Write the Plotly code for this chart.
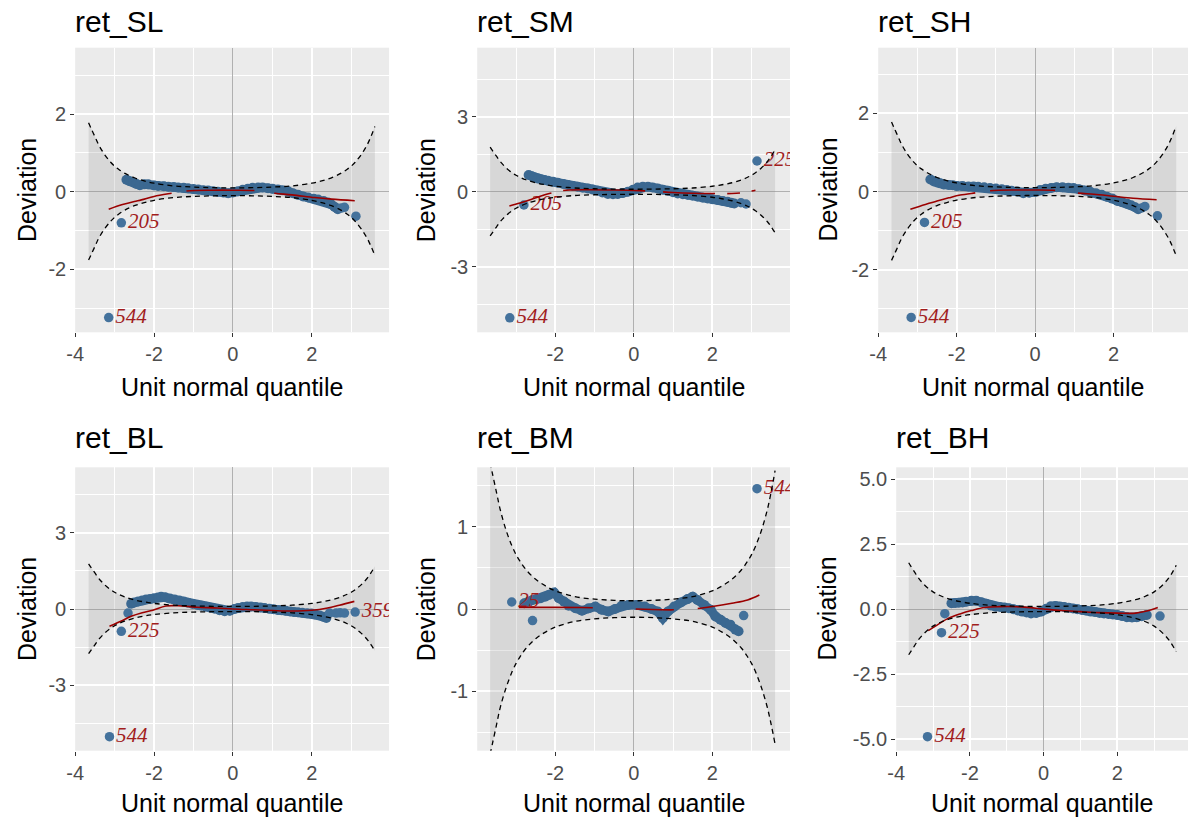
import plotly.graph_objects as go

W, H = 1188, 818

# ---------------- data ----------------
band_x = [-3.66, -3.6, -3.5, -3.4, -3.25, -3.1, -3.0, -2.9, -2.75, -2.5, -2.25, -2.0, -1.5, -1.0, -0.5, 0.0,
          0.5, 1.0, 1.5, 2.0, 2.25, 2.5, 2.75, 2.9, 3.0, 3.1, 3.25, 3.4, 3.5, 3.6]
band_hi = [1.78, 1.64, 1.42, 1.20, 0.95, 0.76, 0.66, 0.58, 0.48, 0.36, 0.28, 0.22, 0.15, 0.12, 0.105, 0.10,
           0.105, 0.12, 0.15, 0.22, 0.28, 0.36, 0.48, 0.58, 0.66, 0.76, 0.95, 1.20, 1.42, 1.68]
band_lo = [-1.76, -1.63, -1.41, -1.19, -0.95, -0.76, -0.66, -0.58, -0.48, -0.36, -0.28, -0.22, -0.15, -0.12, -0.105, -0.10,
           -0.105, -0.12, -0.15, -0.22, -0.28, -0.36, -0.48, -0.58, -0.66, -0.76, -0.95, -1.19, -1.40, -1.64]

# ret_SL
SL_worm_x = [-2.7, -2.62, -2.53, -2.45, -2.36, -2.25, -2.15, -2.0, -1.9, -1.75, -1.64, -1.5, -1.39, -1.25, -1.14, -1.0,
             -0.88, -0.75, -0.63, -0.5, -0.38, -0.25, -0.12, 0.0, 0.13, 0.25, 0.38, 0.5, 0.64, 0.75, 0.89, 1.0, 1.14,
             1.25, 1.4, 1.52, 1.65, 1.78, 1.91, 2.05, 2.16, 2.3, 2.41, 2.5, 2.58, 2.66]
SL_worm_y = [0.31, 0.27, 0.24, 0.2, 0.17, 0.19, 0.19, 0.16, 0.15, 0.14, 0.13, 0.12, 0.11, 0.1, 0.09, 0.07,
             0.06, 0.04, 0.03, 0.01, 0.0, -0.02, -0.04, -0.02, 0.01, 0.05, 0.08, 0.1, 0.11, 0.11, 0.09, 0.08, 0.06,
             0.04, 0.01, -0.04, -0.08, -0.12, -0.15, -0.18, -0.2, -0.24, -0.28, -0.33, -0.39, -0.45]
SL_iso_x = [2.75, 2.83, 3.12, -2.83, -3.15]
SL_iso_y = [-0.42, -0.4, -0.63, -0.8, -3.24]
SL_lab_x = [-2.83, -3.15]
SL_lab_y = [-0.8, -3.24]
SL_lab_t = ["205", "544"]
SL_fit_x = [-3.15, -2.8, -2.5, -2.32, -2.0, -1.56, -1.18, -0.5, 0.0, 0.55, 1.06, 1.5, 2.07, 2.5, 3.09]
SL_fit_y = [-0.45, -0.33, -0.25, -0.21, -0.12, -0.04, 0.02, 0.04, 0.04, 0.03, -0.04, -0.08, -0.15, -0.19, -0.23]

# ret_SM
SM_worm_x = [-2.68, -2.6, -2.53, -2.45, -2.36, -2.28, -2.19, -2.06, -1.94, -1.8, -1.68, -1.55, -1.43, -1.3, -1.17,
             -1.05, -0.92, -0.8, -0.66, -0.53, -0.41, -0.28, -0.15, -0.02, 0.1, 0.23, 0.36, 0.48, 0.61, 0.74, 0.87,
             1.0, 1.12, 1.25, 1.38, 1.5, 1.63, 1.76, 1.88, 2.0, 2.14, 2.27, 2.39, 2.48, 2.56]
SM_worm_y = [0.67, 0.62, 0.57, 0.53, 0.49, 0.47, 0.44, 0.4, 0.36, 0.31, 0.27, 0.23, 0.2, 0.16, 0.13,
             0.09, 0.04, -0.03, -0.09, -0.1, -0.09, -0.05, 0.0, 0.08, 0.17, 0.2, 0.2, 0.17, 0.13, 0.08, 0.04,
             -0.02, -0.07, -0.1, -0.13, -0.16, -0.2, -0.24, -0.27, -0.3, -0.33, -0.37, -0.4, -0.44, -0.47]
SM_iso_x = [2.73, 2.86, 3.14, -2.8, -3.16]
SM_iso_y = [-0.44, -0.49, 1.23, -0.53, -5.04]
SM_lab_x = [-2.8, 3.14, -3.16]
SM_lab_y = [-0.53, 1.23, -5.04]
SM_lab_t = ["205", "225", "544"]
SM_fit_x = [-3.17, -2.9, -2.6, -2.4, -2.2, -2.0, -1.8, -1.2, -0.5, 0.0, 0.5, 1.0, 1.5, 2.0, 2.5, 2.8, 3.1]
SM_fit_y = [-0.57, -0.45, -0.3, -0.19, -0.09, -0.02, 0.05, 0.08, 0.07, 0.05, 0.02, -0.03, -0.06, -0.07, -0.07, -0.03, 0.06]

# ret_SH
SH_worm_x = [-2.67, -2.58, -2.5, -2.42, -2.33, -2.2, -2.1, -2.0, -1.85, -1.7, -1.57, -1.45, -1.3, -1.15, -1.0, -0.85,
             -0.72, -0.6, -0.45, -0.3, -0.15, 0.0, 0.13, 0.27, 0.41, 0.55, 0.7, 0.85, 0.98, 1.12, 1.26, 1.4, 1.55,
             1.7, 1.83, 1.97, 2.1, 2.22, 2.35, 2.45, 2.55, 2.63]
SH_worm_y = [0.31, 0.26, 0.23, 0.21, 0.18, 0.17, 0.16, 0.14, 0.14, 0.13, 0.13, 0.12, 0.11, 0.09, 0.08, 0.06,
             0.04, 0.02, 0.0, -0.04, -0.03, -0.01, 0.04, 0.07, 0.09, 0.11, 0.11, 0.1, 0.09, 0.06, 0.03, 0.0, -0.04,
             -0.08, -0.13, -0.18, -0.24, -0.27, -0.31, -0.35, -0.4, -0.45]
SH_iso_x = [2.72, 2.8, 3.12, -2.82, -3.16]
SH_iso_y = [-0.42, -0.38, -0.62, -0.79, -3.22]
SH_lab_x = [-2.82, -3.16]
SH_lab_y = [-0.79, -3.22]
SH_lab_t = ["205", "544"]
SH_fit_x = [-3.18, -2.8, -2.5, -2.2, -1.91, -1.5, -1.15, -0.5, 0.0, 0.51, 1.1, 1.5, 2.0, 2.5, 3.1]
SH_fit_y = [-0.45, -0.33, -0.24, -0.16, -0.09, -0.03, 0.02, 0.04, 0.04, 0.03, -0.04, -0.07, -0.12, -0.17, -0.21]

# ret_BL
BL_worm_x = [-2.58, -2.5, -2.4, -2.3, -2.2, -2.1, -2.0, -1.9, -1.82, -1.72, -1.6, -1.48, -1.36, -1.25, -1.14, -1.02,
             -0.9, -0.8, -0.68, -0.57, -0.46, -0.34, -0.21, -0.08, 0.04, 0.13, 0.25, 0.36, 0.46, 0.58, 0.7, 0.8,
             0.92, 1.03, 1.14, 1.23, 1.34, 1.45, 1.55, 1.65, 1.76, 1.88, 1.99, 2.1, 2.2, 2.3, 2.37]
BL_worm_y = [0.21, 0.26, 0.3, 0.33, 0.37, 0.39, 0.42, 0.45, 0.48, 0.46, 0.41, 0.37, 0.33, 0.3, 0.25, 0.2,
             0.16, 0.13, 0.09, 0.05, 0.01, -0.05, -0.09, -0.07, 0.0, 0.04, 0.08, 0.1, 0.1, 0.08, 0.06, 0.04,
             0.01, -0.01, -0.04, -0.05, -0.07, -0.1, -0.12, -0.13, -0.15, -0.17, -0.18, -0.22, -0.26, -0.31, -0.35]
BL_iso_x = [2.45, 2.62, 2.72, 2.83, 3.1, -2.66, -2.83, -3.13]
BL_iso_y = [-0.16, -0.16, -0.15, -0.16, -0.12, -0.16, -0.88, -5.03]
BL_lab_x = [-2.83, 3.1, -3.13]
BL_lab_y = [-0.88, -0.12, -5.03]
BL_lab_t = ["225", "359", "544"]
BL_fit_x = [-3.13, -2.8, -2.58, -2.3, -2.03, -1.7, -1.3, -0.9, -0.4, 0.0, 0.5, 1.0, 1.5, 2.0, 2.4, 2.7, 3.08]
BL_fit_y = [-0.68, -0.45, -0.29, -0.15, -0.05, 0.12, 0.12, 0.07, 0.04, 0.0, -0.03, -0.06, -0.08, -0.05, 0.04, 0.15, 0.30]

# ret_BM
BM_worm_x = [-2.79, -2.68, -2.58, -2.47, -2.37, -2.26, -2.16, -2.03, -1.91, -1.78, -1.66, -1.49, -1.32, -1.15, -0.98,
             -0.82, -0.65, -0.48, -0.31, -0.14, 0.07, 0.28, 0.45, 0.61, 0.74, 0.87, 1.03, 1.2, 1.37, 1.5, 1.62, 1.79,
             1.96, 2.08, 2.21, 2.34, 2.46, 2.59, 2.67]
BM_worm_y = [0.07, 0.09, 0.11, 0.12, 0.13, 0.15, 0.17, 0.2, 0.13, 0.09, 0.04, 0.01, -0.02, 0.01, 0.03,
             -0.01, -0.03, 0.0, 0.04, 0.05, 0.05, 0.03, 0.0, -0.03, -0.11, -0.03, 0.03, 0.08, 0.12, 0.15, 0.11, 0.05,
             -0.01, -0.09, -0.13, -0.17, -0.19, -0.25, -0.27]
BM_iso_x = [-3.11, -2.58, 2.8, 3.14]
BM_iso_y = [0.085, -0.14, -0.08, 1.46]
BM_lab_x = [-3.11, 3.14]
BM_lab_y = [0.085, 1.46]
BM_lab_t = ["25", "544"]
BM_fit_x = [-2.93, -2.0, -1.0, 0.0, 1.0, 1.5, 2.0, 2.5, 2.9, 3.2]
BM_fit_y = [0.02, 0.02, 0.015, 0.0, -0.01, 0.0, 0.03, 0.07, 0.11, 0.17]

# ret_BH
BH_worm_x = [-2.5, -2.4, -2.3, -2.2, -2.1, -1.96, -1.83, -1.69, -1.56, -1.42, -1.3, -1.18, -1.06, -0.94, -0.82, -0.7,
             -0.58, -0.46, -0.34, -0.2, -0.07, 0.07, 0.2, 0.32, 0.44, 0.56, 0.68, 0.8, 0.92, 1.04, 1.16, 1.28, 1.4,
             1.52, 1.64, 1.76, 1.88, 2.0, 2.13, 2.26, 2.4, 2.53, 2.66, 2.8]
BH_worm_y = [0.22, 0.23, 0.24, 0.25, 0.28, 0.32, 0.32, 0.26, 0.2, 0.13, 0.09, 0.08, 0.06, 0.03, -0.01, -0.06,
             -0.1, -0.13, -0.17, -0.15, -0.1, 0.01, 0.11, 0.12, 0.1, 0.08, 0.05, 0.02, -0.01, -0.04, -0.07, -0.1, -0.12,
             -0.15, -0.17, -0.19, -0.21, -0.23, -0.27, -0.32, -0.33, -0.32, -0.28, -0.23]
BH_iso_x = [3.16, -2.68, -2.77, -3.15]
BH_iso_y = [-0.27, -0.18, -0.91, -4.91]
BH_lab_x = [-2.77, -3.15]
BH_lab_y = [-0.91, -4.91]
BH_lab_t = ["225", "544"]
BH_fit_x = [-3.13, -2.85, -2.59, -2.25, -1.96, -1.6, -1.2, -0.6, 0.0, 0.5, 1.0, 1.5, 2.0, 2.5, 2.8, 3.1]
BH_fit_y = [-0.83, -0.58, -0.36, -0.18, -0.06, 0.06, 0.09, 0.08, 0.0, -0.06, -0.1, -0.14, -0.16, -0.16, -0.08, 0.06]

# axis ticks
x_ticks = [-4, -2, 0, 2]
x_ticktext = ["-4", "-2", "0", "2"]
x_minor = [-3, -1, 1, 3]

# ---------------- panel setup ----------------
panels = [
    dict(title="ret_SL", worm=(SL_worm_x, SL_worm_y), iso=(SL_iso_x, SL_iso_y), lab=(SL_lab_x, SL_lab_y, SL_lab_t),
         fit=(SL_fit_x, SL_fit_y), dash="65px,15px,68px,20px,130px",
         box=(73.3, 387.7, 47.7, 332.3), xr=[-4.0, 3.96], yr=[-3.62, 3.71],
         yt=[-2, 0, 2], ytt=["-2", "0", "2"], ym=[-3, -1, 1, 3], devx=25),
    dict(title="ret_SM", worm=(SM_worm_x, SM_worm_y), iso=(SM_iso_x, SM_iso_y), lab=(SM_lab_x, SM_lab_y, SM_lab_t),
         fit=(SM_fit_x, SM_fit_y), dash="44px,12px,82px,18px,52px,12px,13px,12px,80px",
         box=(476.0, 789.3, 47.7, 332.3), xr=[-3.99, 3.98], yr=[-5.62, 5.76],
         yt=[-3, 0, 3], ytt=["-3", "0", "3"], ym=[-4.5, -1.5, 1.5, 4.5], devx=425),
    dict(title="ret_SH", worm=(SH_worm_x, SH_worm_y), iso=(SH_iso_x, SH_iso_y), lab=(SH_lab_x, SH_lab_y, SH_lab_t),
         fit=(SH_fit_x, SH_fit_y), dash="67px,15px,65px,23px,130px",
         box=(877.7, 1188.0, 47.7, 332.3), xr=[-4.0, 3.9], yr=[-3.6, 3.68],
         yt=[-2, 0, 2], ytt=["-2", "0", "2"], ym=[-3, -1, 1, 3], devx=827),
    dict(title="ret_BL", worm=(BL_worm_x, BL_worm_y), iso=(BL_iso_x, BL_iso_y), lab=(BL_lab_x, BL_lab_y, BL_lab_t),
         fit=(BL_fit_x, BL_fit_y), dash="solid",
         box=(73.3, 387.7, 467.3, 750.7), xr=[-4.0, 3.96], yr=[-5.58, 5.58],
         yt=[-3, 0, 3], ytt=["-3", "0", "3"], ym=[-4.5, -1.5, 1.5, 4.5], devx=25),
    dict(title="ret_BM", worm=(BM_worm_x, BM_worm_y), iso=(BM_iso_x, BM_iso_y), lab=(BM_lab_x, BM_lab_y, BM_lab_t),
         fit=(BM_fit_x, BM_fit_y), dash="74px,43px,38px,24px,120px",
         box=(476.0, 789.3, 467.3, 750.7), xr=[-3.99, 3.98], yr=[-1.72, 1.72],
         yt=[-1, 0, 1], ytt=["-1", "0", "1"], ym=[-1.5, -0.5, 0.5, 1.5], devx=425),
    dict(title="ret_BH", worm=(BH_worm_x, BH_worm_y), iso=(BH_iso_x, BH_iso_y), lab=(BH_lab_x, BH_lab_y, BH_lab_t),
         fit=(BH_fit_x, BH_fit_y), dash="solid",
         box=(895.7, 1188.0, 467.3, 750.7), xr=[-4.0, 3.92], yr=[-5.45, 5.45],
         yt=[-5, -2.5, 0, 2.5, 5], ytt=["-5.0", "-2.5", "0.0", "2.5", "5.0"], ym=[-3.75, -1.25, 1.25, 3.75], devx=826),
]

SANS = "Liberation Sans, Arial, sans-serif"
SERIF = "Liberation Serif, Times New Roman, serif"
WORM_COL = "#3b6891"
ISO_COL = "#44729c"
FIT_COL = "#9b0000"
LAB_COL = "#a11d1d"

# observed horizontal placement correction of the rendered page (screen px -> paper fraction)
X_OFF, X_SPAN = 7.0, 1181.0


def fx(px):
    return (px - X_OFF) / X_SPAN


def fy(py):
    return 1 - py / H


fig = go.Figure()
annotations = []
layout_axes = {}

for i, p in enumerate(panels, start=1):
    xa = "x" if i == 1 else f"x{i}"
    ya = "y" if i == 1 else f"y{i}"
    l, r, t, b = p["box"]
    common = dict(xaxis=xa, yaxis=ya, showlegend=False, hoverinfo="skip")

    # confidence ribbon
    fig.add_trace(go.Scatter(x=band_x + band_x[::-1], y=band_hi + band_lo[::-1], mode="lines",
                             fill="toself", fillcolor="rgba(140,140,140,0.21)", line=dict(width=0), **common))
    # worm
    wx, wy = p["worm"]
    fig.add_trace(go.Scatter(x=wx, y=wy, mode="lines+markers",
                             line=dict(color=WORM_COL, width=9),
                             marker=dict(color=WORM_COL, size=10), **common))
    ix, iy = p["iso"]
    fig.add_trace(go.Scatter(x=ix, y=iy, mode="markers", marker=dict(color=ISO_COL, size=9.5), **common))
    # outlier labels
    lx, ly, lt = p["lab"]
    fig.add_trace(go.Scatter(x=lx, y=ly, text=lt, mode="markers+text", textposition="middle right",
                             marker=dict(size=9, opacity=0),
                             textfont=dict(family=SERIF, size=21, color=LAB_COL, style="italic"),
                             cliponaxis=True, **common))
    # fitted red curve
    fxs, fys = p["fit"]
    fig.add_trace(go.Scatter(x=fxs, y=fys, mode="lines", line=dict(color=FIT_COL, width=1.6, dash=p["dash"],
                                                                   shape="spline"), **common))
    # dashed band limits
    for by in (band_hi, band_lo):
        fig.add_trace(go.Scatter(x=band_x, y=by, mode="lines",
                                 line=dict(color="black", width=1.3, dash="5px,4px", shape="spline"), **common))

    axis_common = dict(ticks="outside", ticklen=4, tickwidth=1, tickcolor="#333333",
                       tickfont=dict(family=SANS, size=20, color="#4D4D4D"),
                       showgrid=True, gridcolor="white", gridwidth=1.5,
                       zeroline=True, zerolinecolor="#b0b0b0", zerolinewidth=1.2,
                       showline=False, fixedrange=True)
    layout_axes["xaxis" if i == 1 else f"xaxis{i}"] = dict(
        domain=[max(0.0, fx(l)), min(1.0, fx(r))], anchor=ya, range=p["xr"], tickmode="array",
        tickvals=x_ticks, ticktext=x_ticktext,
        minor=dict(tickvals=x_minor, showgrid=True, gridcolor="white", gridwidth=0.8, ticks=""),
        **axis_common)
    layout_axes["yaxis" if i == 1 else f"yaxis{i}"] = dict(
        domain=[fy(b), fy(t)], anchor=xa, range=p["yr"], tickmode="array",
        tickvals=p["yt"], ticktext=p["ytt"],
        minor=dict(tickvals=p["ym"], showgrid=True, gridcolor="white", gridwidth=0.8, ticks=""),
        **axis_common)

    top_row = t < 100
    # panel title
    annotations.append(dict(text=p["title"], xref="paper", yref="paper", x=fx(l - 2),
                            y=fy(21.7 if top_row else 437.5), xanchor="left", yanchor="middle",
                            showarrow=False, font=dict(family=SANS, size=30, color="black")))
    # x axis title
    annotations.append(dict(text="Unit normal quantile", xref="paper", yref="paper", x=fx((l + r) / 2),
                            y=fy(386.7 if top_row else 802.7), xanchor="center", yanchor="middle",
                            showarrow=False, font=dict(family=SANS, size=25, color="black")))
    # y axis title
    annotations.append(dict(text="Deviation", xref="paper", yref="paper", x=fx(p["devx"]),
                            y=fy((t + b) / 2), xanchor="center", yanchor="middle", textangle=-90,
                            showarrow=False, font=dict(family=SANS, size=25, color="black")))

fig.update_layout(width=W, height=H, margin=dict(l=0, r=0, t=0, b=0),
                  paper_bgcolor="white", plot_bgcolor="#EBEBEB",
                  annotations=annotations, **layout_axes)

fig.write_html("out.html")
